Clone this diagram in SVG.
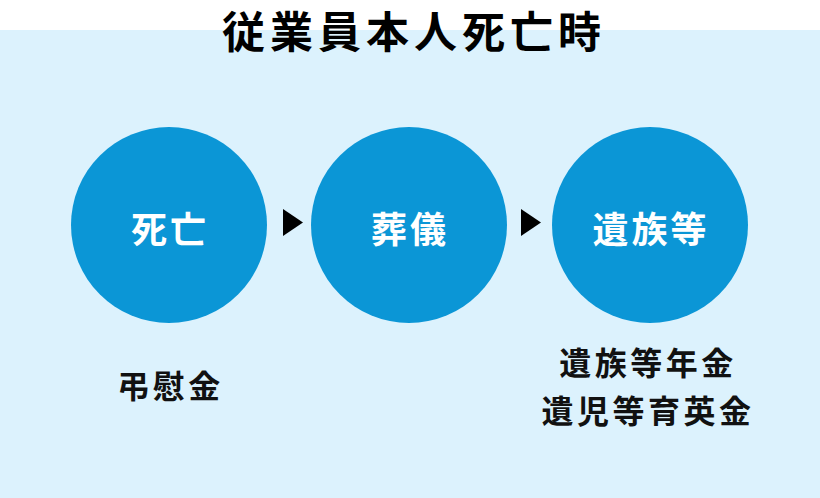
<svg xmlns="http://www.w3.org/2000/svg" width="820" height="498" viewBox="0 0 820 498">
<style>
.t{font-family:"Noto Sans CJK JP","Noto Sans CJK SC",sans-serif;font-weight:bold;dominant-baseline:central;text-anchor:middle}
.title{font-size:43px;fill:#000;letter-spacing:5px}
.node circle{fill:#0B96D6}
.node text{font-size:36px;fill:#fff;letter-spacing:3px}
.lab{font-size:32px;fill:#111;letter-spacing:3.5px}
.arr{fill:#000}
</style>
<rect x="0" y="0" width="820" height="498" fill="#fff"/>
<rect x="0" y="30" width="820" height="468" fill="#DCF2FD"/>
<text class="t title" x="414" y="29">従業員本人死亡時</text>
<g id="node1" class="node"><circle cx="169" cy="225" r="98"/><text class="t" x="170" y="227">死亡</text></g>
<g id="node2" class="node"><circle cx="409" cy="225" r="98"/><text class="t" x="410" y="227">葬儀</text></g>
<g id="node3" class="node"><circle cx="650" cy="225" r="98"/><text class="t" x="651" y="227">遺族等</text></g>
<g id="connectors">
<polygon class="arr" points="283,209 303,222.5 283,236"/>
<polygon class="arr" points="521,209 541,222.5 521,236"/>
</g>
<g id="labels">
<text class="t lab" x="170.5" y="383.5">弔慰金</text>
<text class="t lab" x="648" y="361">遺族等年金</text>
<text class="t lab" x="648" y="408.5">遺児等育英金</text>
</g>
</svg>
